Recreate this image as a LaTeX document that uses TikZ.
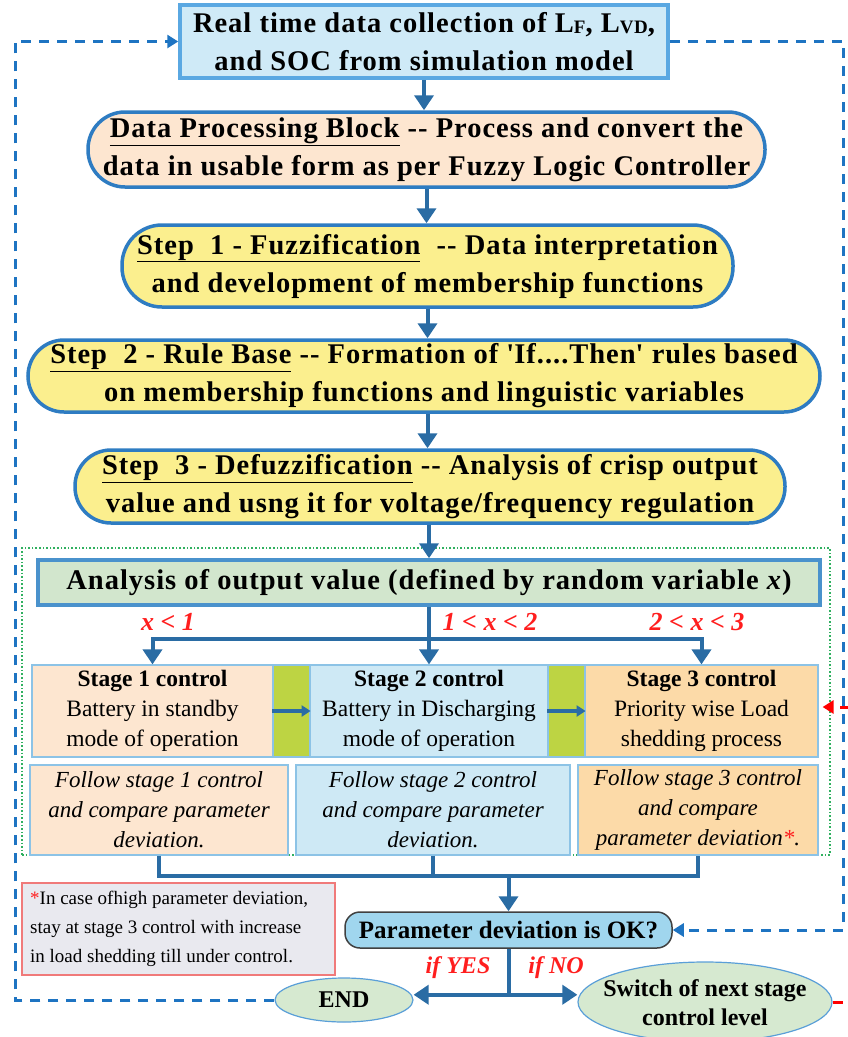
\documentclass[tikz,border=0pt]{standalone}
\usepackage{fontspec}
\setmainfont{Liberation Serif}
\usetikzlibrary{arrows.meta,shapes.geometric}

\definecolor{flowblue}{HTML}{2A6CA4}
\definecolor{dashblue}{HTML}{1E74C2}
\definecolor{pillblue}{HTML}{2E7CC2}
\definecolor{topfill}{HTML}{CFEAF7}
\definecolor{topedge}{HTML}{5AA8E2}
\definecolor{peach}{HTML}{FDE6D0}
\definecolor{fuzzyellow}{HTML}{FBEF8E}
\definecolor{anafill}{HTML}{D2E6CD}
\definecolor{anaedge}{HTML}{4A92CC}
\definecolor{barfill}{HTML}{BDD443}
\definecolor{stagetwo}{HTML}{CEE9F5}
\definecolor{stagethree}{HTML}{FCDAA8}
\definecolor{thinedge}{HTML}{8CC3E6}
\definecolor{notefill}{HTML}{E9E9EF}
\definecolor{noteedge}{HTML}{F07A7A}
\definecolor{paramfill}{HTML}{A0D6EE}
\definecolor{ovalfill}{HTML}{D6E9D0}
\definecolor{ovaledge}{HTML}{5A9FD8}
\definecolor{cond}{HTML}{FF1E1E}
\definecolor{dotgreen}{HTML}{30B060}

\newcommand\lsub[1]{{\fontsize{19}{19}\selectfont\raisebox{-1pt}{#1}}}
\newcommand\dd{{-}{-}}
\newcommand\spaced{\addfontfeature{LetterSpace=3.5}}

\begin{document}
\begin{tikzpicture}[x=1pt,y=-1pt,
  bigtext/.style={font=\fontsize{28.5}{38}\selectfont\bfseries\spaced, align=center, inner sep=0pt},
  topbox/.style={bigtext, draw=topedge, line width=3.5pt, fill=topfill},
  pillbox/.style={bigtext, draw=pillblue, line width=3.5pt},
  anabox/.style={font=\fontsize{28.5}{32}\selectfont\bfseries\spaced, align=center, inner sep=0pt,
    draw=anaedge, line width=3.5pt, fill=anafill},
  stagebox/.style={font=\fontsize{23.5}{30}\selectfont, align=center, inner sep=0pt,
    draw=thinedge, line width=1.2pt, minimum height=92},
  barbox/.style={draw=thinedge, line width=1.2pt, fill=barfill, minimum width=37, minimum height=92, inner sep=0pt},
  followbox/.style={font=\fontsize{23}{30}\selectfont\itshape, align=center, inner sep=0pt,
    draw=thinedge, line width=1.2pt, minimum height=90},
  oval/.style={ellipse, draw=ovaledge, line width=1.2pt, fill=ovalfill, inner sep=0pt},
  ovaltext/.style={inner sep=0pt, font=\fontsize{24}{29}\selectfont\bfseries, align=center},
  condlabel/.style={text=cond, font=\fontsize{26}{26}\selectfont\bfseries\itshape, inner sep=0pt},
  flowline/.style={draw=flowblue, line width=4pt},
  flowarrow/.style={flowline, -{Triangle[width=19pt,length=15pt]}},
  smallarrow/.style={draw=flowblue, line width=3.5pt, -{Triangle[width=11pt,length=9pt]}},
  loopline/.style={draw=dashblue, line width=3pt, dash pattern=on 10pt off 8pt,
    -{Triangle[width=13pt,length=11pt]}},
  redloop/.style={draw=red, line width=3pt, dash pattern=on 10pt off 8pt,
    -{Triangle[width=13pt,length=11pt]}}
]
\useasboundingbox (0,0) rectangle (848,1037);
\clip (0,0) rectangle (848,1037);

% ---- main processing chain ----
\node[topbox, minimum width=488, minimum height=73] (collect) at (424,41.5)
  {Real time data collection of L\lsub{F}, L\lsub{VD},\\ and SOC from simulation model};
\node[pillbox, fill=peach, minimum width=677, minimum height=75, rounded corners=37pt] (proc) at (426.5,149.5)
  {\underline{Data Processing Block} \dd{} Process and convert the\\ data in usable form as per Fuzzy Logic Controller};
\node[pillbox, fill=fuzzyellow, minimum width=611, minimum height=82, rounded corners=40pt] (fuzz) at (427.5,266)
  {\underline{Step~~1 - Fuzzification}~~\dd{} Data interpretation\\ and development of membership functions};
\node[pillbox, fill=fuzzyellow, minimum width=792, minimum height=72, rounded corners=36pt] (rule) at (424,376)
  {\underline{Step~~2 - Rule Base} \dd{} Formation of \textquotesingle If....Then\textquotesingle{} rules based\\ on membership functions and linguistic variables};
\node[pillbox, fill=fuzzyellow, minimum width=710, minimum height=73, rounded corners=36pt] (defuzz) at (430,486.5)
  {\underline{Step~~3 - Defuzzification} \dd{} Analysis of crisp output\\ value and usng it for voltage/frequency regulation};

\draw[flowarrow] (collect.south) -- (collect.south |- proc.north);
\draw[flowarrow] (proc.south) -- (proc.south |- fuzz.north);
\draw[flowarrow] (fuzz.south) -- (fuzz.south |- rule.north);
\draw[flowarrow] (rule.south -| fuzz.south) -- (fuzz.south |- defuzz.north);

% ---- stage selection group ----
\node[draw=dotgreen, line width=1.6pt, dotted, minimum width=808, minimum height=307, inner sep=0pt] (group) at (426,701.5) {};
\node[anabox, minimum width=782, minimum height=45] (analysis) at (429,582.5)
  {Analysis of output value (defined by random variable \textit{x})};
\draw[flowarrow] (defuzz.south -| analysis.north) -- (analysis.north);

\node[stagebox, fill=peach, minimum width=241] (s1) at (152.5,711)
  {\textbf{Stage 1 control}\\ Battery in standby\\ mode of operation};
\node[barbox] (g1) at (291.5,711) {};
\node[stagebox, fill=stagetwo, minimum width=238] (s2) at (429,711)
  {\textbf{Stage 2 control}\\ Battery in Discharging\\ mode of operation};
\node[barbox] (g2) at (566.5,711) {};
\node[stagebox, fill=stagethree, minimum width=233] (s3) at (701.5,711)
  {\textbf{Stage 3 control}\\ Priority wise Load\\ shedding process};
\draw[smallarrow] (g1.west) -- (g1.east);
\draw[smallarrow] (g2.west) -- (g2.east);

\draw[flowline] (analysis.south) -- ++(0,32) coordinate (branch);
\draw[flowarrow] (branch) -| (s1.north);
\draw[flowarrow] (branch) -- (s2.north);
\draw[flowarrow] (branch) -| (s3.north);
\node[condlabel] (c1) at (168,622) {x < 1};
\node[condlabel] (c2) at (490,622) {1 < x < 2};
\node[condlabel] (c3) at (697,622) {2 < x < 3};

\node[followbox, fill=peach, minimum width=258] (f1) at (159,810)
  {Follow stage 1 control\\ and compare parameter\\ deviation.};
\node[followbox, fill=stagetwo, minimum width=274] (f2) at (433,810)
  {Follow stage 2 control\\ and compare parameter\\ deviation.};
\node[followbox, fill=stagethree, minimum width=240] (f3) at (698,810)
  {Follow stage 3 control\\ and compare\\ parameter deviation\textcolor{cond}{*}.};

% ---- merge and decision ----
\node[draw=black!75, line width=1.5pt, fill=paramfill, rounded corners=15pt, minimum width=327, minimum height=36,
  inner sep=0pt, font=\fontsize{25}{25}\selectfont\bfseries] (param) at (508.5,930) {Parameter deviation is OK?};

\draw[flowline] (f1.south) -- ++(0,20) coordinate (m1) -| (f3.south);
\draw[flowline] (f2.south) -- (f2.south |- m1);
\draw[flowarrow] (param.north |- m1) -- (param.north);

\node[draw=noteedge, line width=1.2pt, fill=notefill, minimum width=313, minimum height=92, inner sep=0pt] (note) at (178.5,929) {};
\node[anchor=west, align=left, inner sep=0pt, font=\fontsize{19}{29}\selectfont] (notetext) at (30,929)
  {\textcolor{cond}{*}In case ofhigh parameter deviation,\\ stay at stage 3 control with increase\\ in load shedding till under control.};

\node[oval, minimum width=138, minimum height=44] (endnode) at (344,1000) {};
\node[ovaltext] (endtext) at (endnode.center) {END};
\node[oval, minimum width=254, minimum height=80] (switch) at (705,1002) {};
\node[ovaltext] (switchtext) at (705,1003) {Switch of next stage\\ control level};

\draw[flowline] (param.south) -- ++(0,46) coordinate (split);
\draw[flowarrow] (split) -- (endnode.east |- split);
\draw[flowarrow] (split) -- (switch.west |- split);
\node[condlabel, font=\fontsize{24}{24}\selectfont\bfseries\itshape] (yes) at (458,968) {if YES};
\node[condlabel, font=\fontsize{24}{24}\selectfont\bfseries\itshape] (no) at (556,968) {if NO};

% ---- feedback loops ----
\coordinate (lefttop) at (15,41.5);
\coordinate (rightdown) at (843,930);
\coordinate (redcorner) at (856,707);
\draw[redloop] (switch.east) -| (redcorner) -- ([xshift=4pt]s3.east |- redcorner);
\draw[loopline] (endnode.west) -| (lefttop) -- (collect.west);
\draw[loopline] (collect.east) -| (rightdown) -- (param.east);
\end{tikzpicture}
\end{document}
